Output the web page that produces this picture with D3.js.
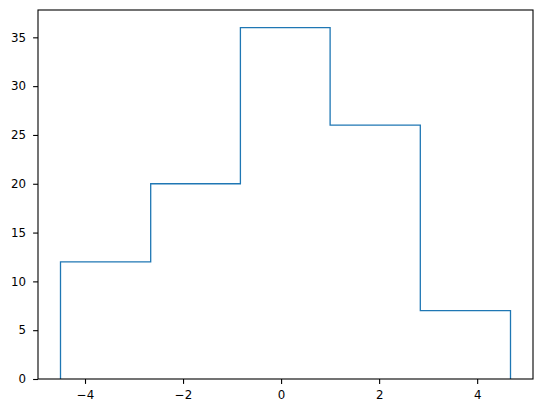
<!DOCTYPE html>
<html>
<head>
<meta charset="utf-8">
<script src="https://cdn.jsdelivr.net/npm/d3@7"></script>
<style>
  body { margin: 0; background: #fff; }
  text { font-family: "DejaVu Sans", sans-serif; }
</style>
</head>
<body>
<svg id="chart" width="543" height="413"></svg>
<script>
// histogram bin edges and counts (histtype step)
var binEdges = [-4.50, -2.66, -0.83, 1.00, 2.84, 4.68];
var counts = [12, 20, 36, 26, 7];
var xTicks = [-4, -2, 0, 2, 4];
var yTicks = [0, 5, 10, 15, 20, 25, 30, 35];

var svg = d3.select('#chart');
var plotLeft = 38, plotRight = 533, plotTop = 10, plotBottom = 379;

var span = binEdges[binEdges.length - 1] - binEdges[0];
var x = d3.scaleLinear()
    .domain([binEdges[0] - span * 0.05, binEdges[binEdges.length - 1] + span * 0.05])
    .range([plotLeft, plotRight]);
var y = d3.scaleLinear()
    .domain([0, d3.max(counts) * 1.05])
    .range([plotBottom, plotTop]);

// build the step outline from edges and counts
var pts = [[binEdges[0], 0]];
counts.forEach(function (c, i) {
    pts.push([binEdges[i], c]);
    pts.push([binEdges[i + 1], c]);
});
pts.push([binEdges[binEdges.length - 1], 0]);

var line = d3.line()
    .x(function (d) { return x(d[0]); })
    .y(function (d) { return y(d[1]); });

svg.append('path')
    .attr('d', line(pts))
    .attr('fill', 'none')
    .attr('stroke', '#1f77b4')
    .attr('stroke-width', 1.3)
    .attr('stroke-linejoin', 'miter');

var xAxis = d3.axisBottom(x).tickValues(xTicks).tickSize(4.9).tickPadding(6.5)
    .tickFormat(function (d) { return d < 0 ? '\u2212' + Math.abs(d) : d; });
var yAxis = d3.axisLeft(y).tickValues(yTicks).tickSize(4.9).tickPadding(7);

var gx = svg.append('g').attr('transform', 'translate(0,' + plotBottom + ')').call(xAxis);
var gy = svg.append('g').attr('transform', 'translate(' + plotLeft + ',0)').call(yAxis);
[gx, gy].forEach(function (g) {
    g.select('.domain').remove();
    g.selectAll('line').attr('stroke', '#000').attr('stroke-width', 1.1);
    g.selectAll('text').attr('font-size', 11.8).attr('fill', '#000')
        .style('font-family', '"DejaVu Sans", sans-serif');
});

// frame
svg.append('rect')
    .attr('x', plotLeft).attr('y', plotTop)
    .attr('width', plotRight - plotLeft).attr('height', plotBottom - plotTop)
    .attr('fill', 'none').attr('stroke', '#000').attr('stroke-width', 1.1);
</script>
</body>
</html>
